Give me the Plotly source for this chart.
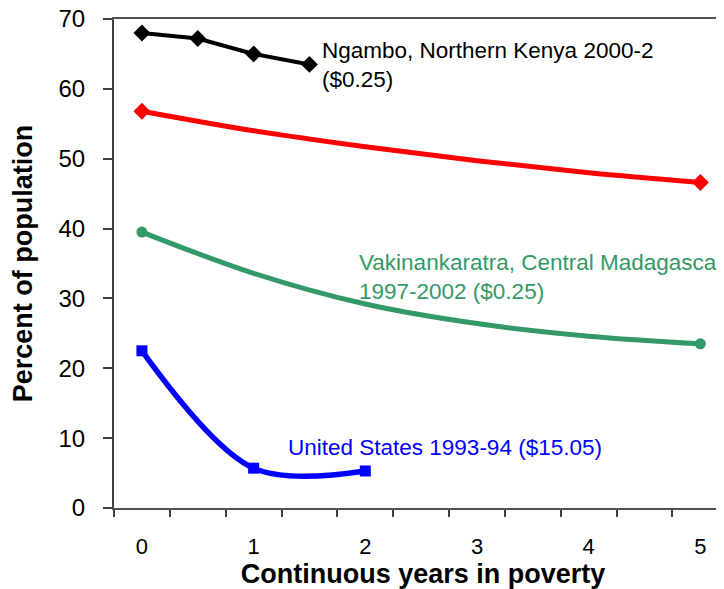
import plotly.graph_objects as go

# ---- data ----
years_kenya = [0, 0.5, 1, 1.5]
pct_kenya = [68.0, 67.2, 65.0, 63.5]

years_red = [0, 1, 2, 3, 4, 5]
pct_red = [56.8, 54.0, 51.7, 49.7, 48.0, 46.6]

years_mada = [0, 1, 2, 3, 4, 5]
pct_mada = [39.5, 33.6, 29.2, 26.4, 24.6, 23.5]

years_us = [0, 1, 2]
pct_us = [22.5, 5.7, 5.3]

x_tick_vals = [0, 1, 2, 3, 4, 5]
x_tick_text = ["0", "1", "2", "3", "4", "5"]
y_tick_vals = [0, 10, 20, 30, 40, 50, 60, 70]

label_kenya = "Ngambo, Northern Kenya 2000-2<br>($0.25)"
label_mada = "Vakinankaratra, Central Madagascar<br>1997-2002 ($0.25)"
label_us = "United States 1993-94 ($15.05)"

FONT = "Arial, 'Liberation Sans', sans-serif"
GREEN = "#339966"
X_RANGE = [-0.25, 5.283]

fig = go.Figure()

fig.add_trace(go.Scatter(
    x=years_kenya, y=pct_kenya, mode="lines+markers",
    line=dict(color="black", width=4),
    marker=dict(symbol="diamond", size=13, color="black"),
    showlegend=False, hoverinfo="skip"))

# red series: smoothed line, markers only at both ends
fig.add_trace(go.Scatter(
    x=years_red, y=pct_red, mode="lines",
    line=dict(color="#FF0000", width=5, shape="spline", smoothing=1),
    showlegend=False, hoverinfo="skip"))
fig.add_trace(go.Scatter(
    x=[years_red[0], years_red[-1]], y=[pct_red[0], pct_red[-1]], mode="markers",
    marker=dict(symbol="diamond", size=13, color="#FF0000", line=dict(width=0)),
    showlegend=False, hoverinfo="skip"))

# green series
fig.add_trace(go.Scatter(
    x=years_mada, y=pct_mada, mode="lines",
    line=dict(color=GREEN, width=5, shape="spline", smoothing=1),
    showlegend=False, hoverinfo="skip"))
fig.add_trace(go.Scatter(
    x=[years_mada[0], years_mada[-1]], y=[pct_mada[0], pct_mada[-1]], mode="markers",
    marker=dict(symbol="circle", size=11, color=GREEN, line=dict(width=0)),
    showlegend=False, hoverinfo="skip"))

fig.add_trace(go.Scatter(
    x=years_us, y=pct_us, mode="lines+markers",
    line=dict(color="#0000FF", width=5.5, shape="spline", smoothing=0.95),
    marker=dict(symbol="square", size=11, color="#0000FF"),
    showlegend=False, hoverinfo="skip"))

fig.add_annotation(x=1.59, y=63.4, xref="x", yref="y", text=label_kenya,
                   showarrow=False, xanchor="left", yanchor="middle", align="left",
                   font=dict(family=FONT, size=22.5, color="black"))
fig.add_annotation(x=1.925, y=33.1, xref="x", yref="y", text=label_mada,
                   showarrow=False, xanchor="left", yanchor="middle", align="left",
                   font=dict(family=FONT, size=22.5, color=GREEN))
fig.add_annotation(x=1.29, y=8.6, xref="x", yref="y", text=label_us,
                   showarrow=False, xanchor="left", yanchor="middle", align="left",
                   font=dict(family=FONT, size=22.5, color="#0000FF"))

# the page body adds an 8px offset, compensated in the margins
fig.update_layout(
    width=724, height=589,
    margin=dict(l=106, r=0, t=11, b=89, autoexpand=False),
    paper_bgcolor="white", plot_bgcolor="white",
    font=dict(family=FONT, color="black"),
)

fig.update_xaxes(
    range=X_RANGE, automargin=False,
    tickmode="array", tickvals=x_tick_vals, ticktext=x_tick_text,
    ticks="", showgrid=False, zeroline=False,
    showline=True, mirror=True, linecolor="#505050", linewidth=2,
    tickfont=dict(family=FONT, size=22, color="black"),
    ticklabelstandoff=18, ticklabeloverflow="allow",
    minor=dict(ticks="outside", tick0=-0.25, dtick=0.5, ticklen=7,
               tickcolor="#404040", tickwidth=1.5, showgrid=False),
    title=dict(text="<b>Continuous years in poverty</b>",
               font=dict(family=FONT, size=27, color="black"), standoff=4),
)

fig.update_yaxes(
    range=[0, 70], automargin=False,
    tickmode="array", tickvals=y_tick_vals,
    ticks="outside", ticklen=9, tickcolor="#404040", tickwidth=1.5,
    showgrid=False, zeroline=False,
    showline=True, linecolor="#404040", linewidth=2,
    tickfont=dict(family=FONT, size=24, color="black"),
    ticklabelstandoff=13, ticklabeloverflow="allow",
    title=dict(text="<b>Percent of population</b>",
               font=dict(family=FONT, size=27, color="black"), standoff=22),
)

fig.write_html("out.html")
